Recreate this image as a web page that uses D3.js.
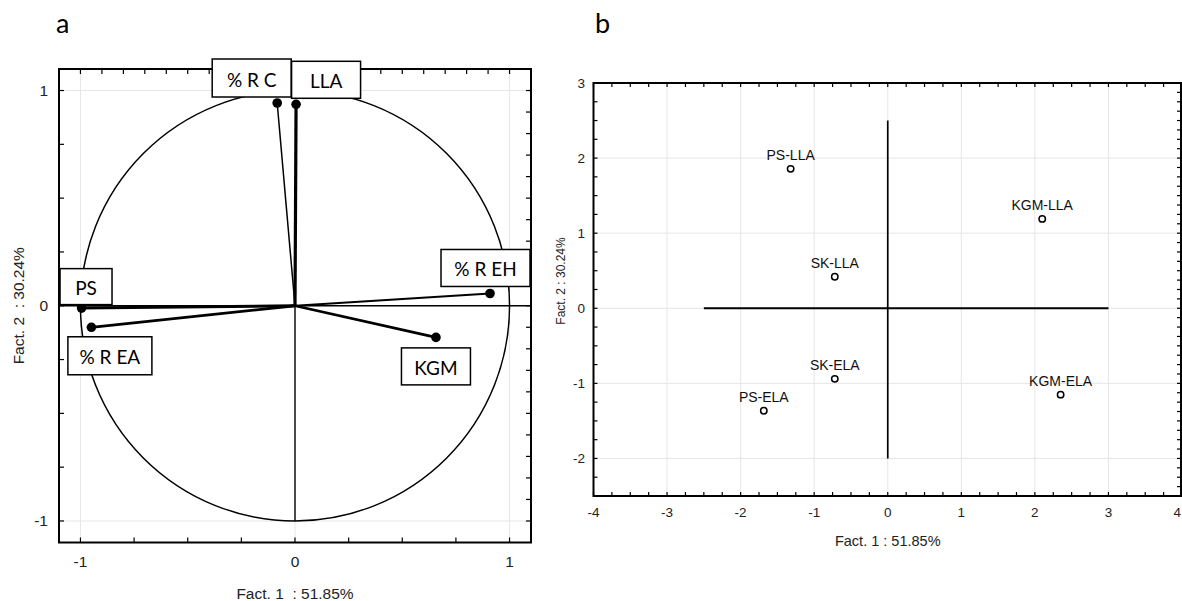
<!DOCTYPE html>
<html>
<head>
<meta charset="utf-8">
<script src="https://cdn.jsdelivr.net/npm/d3@7"></script>
<style>
  html, body { margin: 0; padding: 0; background: #fff; }
  svg { display: block; }
</style>
</head>
<body>
<svg id="chart" width="1182" height="601"></svg>
<script>
// ---------- DATA ----------
// Panel a: projection of variables on factor plane (1 x 2)
const varNames = ["% R C", "LLA", "% R EH", "PS", "% R EA", "KGM"];
const varF1 = [-0.083, 0.005, 0.909, -0.995, -0.949, 0.657];
const varF2 = [0.942, 0.936, 0.057, -0.011, -0.100, -0.147];

// Panel b: projection of cases on factor plane (1 x 2)
const caseNames = ["PS-LLA", "KGM-LLA", "SK-LLA", "SK-ELA", "PS-ELA", "KGM-ELA"];
const caseF1 = [-1.32, 2.10, -0.72, -0.72, -1.685, 2.35];
const caseF2 = [1.857, 1.19, 0.42, -0.94, -1.365, -1.15];

const ticksA = [-1, 0, 1];
const ticksBx = [-4, -3, -2, -1, 0, 1, 2, 3, 4];
const ticksBy = [-2, -1, 0, 1, 2, 3];

const titleA = "a", titleB = "b";
const xTitleA = "Fact. 1  : 51.85%", yTitleA = "Fact. 2  : 30.24%";
const xTitleB = "Fact. 1 : 51.85%", yTitleB = "Fact. 2 : 30.24%";

// ---------- LAYOUT / STYLE (not data) ----------
const vecWidth = [1.5, 3.2, 1.8, 3.0, 2.8, 2.8];
// label box: offset of box top-left from point (px), box size
const boxLayout = [
  {dx: -65, dy: -44, w: 79, h: 38},
  {dx: -4.5, dy: -43, w: 69, h: 37},
  {dx: -49, dy: -44, w: 89, h: 37},
  {dx: -21.5, dy: -39.5, w: 52, h: 36},
  {dx: -23.5, dy: 9.5, w: 84, h: 38},
  {dx: -34.5, dy: 10.5, w: 69, h: 37}
];

const svg = d3.select("#chart");
const ARIAL = "'Liberation Sans', Arial, sans-serif";
const CALIBRI = "Lato, 'Open Sans', sans-serif";

function drawTicks(g, scale, vals, orient, x0, y0, len) {
  vals.forEach(v => {
    const p = scale(v);
    let x1, y1, x2, y2;
    if (orient === "bottom") { x1 = x2 = p; y1 = y0; y2 = y0 - len; }
    if (orient === "top") { x1 = x2 = p; y1 = y0; y2 = y0 + len; }
    if (orient === "left") { y1 = y2 = p; x1 = x0; x2 = x0 + len; }
    if (orient === "right") { y1 = y2 = p; x1 = x0; x2 = x0 - len; }
    g.append("line").attr("x1", x1).attr("y1", y1).attr("x2", x2).attr("y2", y2)
      .attr("stroke", "#000").attr("stroke-width", 1.2);
  });
}
function steps(a, b, s) {
  const n = Math.round((b - a) / s);
  return d3.range(n + 1).map(i => +(a + i * s).toFixed(4));
}

// ================= PANEL A =================
{
  const x = d3.scaleLinear().domain([-1.1, 1.1]).range([59, 531]);
  const y = d3.scaleLinear().domain([-1.1, 1.1]).range([542.5, 69]);
  const g = svg.append("g");

  // grid
  ticksA.forEach(t => {
    g.append("line").attr("x1", x(t)).attr("x2", x(t)).attr("y1", y(1.1)).attr("y2", y(-1.1))
      .attr("stroke", "#e6e6e6").attr("stroke-width", 1);
    g.append("line").attr("y1", y(t)).attr("y2", y(t)).attr("x1", x(-1.1)).attr("x2", x(1.1))
      .attr("stroke", "#e6e6e6").attr("stroke-width", 1);
  });

  // unit circle
  g.append("ellipse").attr("cx", x(0)).attr("cy", y(0))
    .attr("rx", x(1) - x(0)).attr("ry", y(0) - y(1))
    .attr("fill", "none").attr("stroke", "#000").attr("stroke-width", 1.5);

  // axes lines
  g.append("line").attr("x1", x(-1.1)).attr("x2", x(1.1)).attr("y1", y(0)).attr("y2", y(0))
    .attr("stroke", "#000").attr("stroke-width", 1.7);
  g.append("line").attr("x1", x(0)).attr("x2", x(0)).attr("y1", y(0)).attr("y2", y(-1))
    .attr("stroke", "#000").attr("stroke-width", 1.4);

  // vectors
  varNames.forEach((n, i) => {
    g.append("line").attr("x1", x(0)).attr("y1", y(0)).attr("x2", x(varF1[i])).attr("y2", y(varF2[i]))
      .attr("stroke", "#000").attr("stroke-width", vecWidth[i]);
  });
  varNames.forEach((n, i) => {
    g.append("circle").attr("cx", x(varF1[i])).attr("cy", y(varF2[i])).attr("r", 4.8).attr("fill", "#000");
  });

  // frame
  g.append("rect").attr("x", x(-1.1)).attr("y", y(1.1)).attr("width", x(1.1) - x(-1.1)).attr("height", y(-1.1) - y(1.1))
    .attr("fill", "none").attr("stroke", "#000").attr("stroke-width", 2);

  // ticks
  drawTicks(g, x, steps(-1, 1, 0.25), "bottom", 0, y(-1.1), 5);
  drawTicks(g, y, steps(-1, 1, 0.25), "left", x(-1.1), 0, 5);
  drawTicks(g, x, steps(-1, 1, 0.1), "top", 0, y(1.1), 5);
  drawTicks(g, y, steps(-1, 1, 0.1), "right", x(1.1), 0, 5);

  // label boxes
  varNames.forEach((n, i) => {
    const b = boxLayout[i];
    const bx = x(varF1[i]) + b.dx, by = y(varF2[i]) + b.dy;
    g.append("rect").attr("x", bx).attr("y", by).attr("width", b.w).attr("height", b.h)
      .attr("fill", "#fff").attr("stroke", "#000").attr("stroke-width", 1.5);
    g.append("text").attr("x", bx + b.w / 2).attr("y", by + b.h / 2 + 1)
      .attr("text-anchor", "middle").attr("dominant-baseline", "central")
      .attr("font-family", CALIBRI).attr("font-size", 19).attr("fill", "#000").text(n);
  });

  // tick labels
  ticksA.forEach(t => {
    g.append("text").attr("x", x(t)).attr("y", 567).attr("text-anchor", "middle")
      .attr("font-family", ARIAL).attr("font-size", 15.5).attr("fill", "#222").text(t);
    g.append("text").attr("x", 48).attr("y", y(t) + 5.5).attr("text-anchor", "end")
      .attr("font-family", ARIAL).attr("font-size", 15.5).attr("fill", "#222").text(t);
  });

  // axis titles
  g.append("text").attr("x", x(0)).attr("y", 599).attr("text-anchor", "middle")
    .attr("font-family", ARIAL).attr("font-size", 15.5).attr("fill", "#222")
    .style("white-space", "pre").text(xTitleA);
  g.append("text").attr("transform", `translate(24,${y(0)}) rotate(-90)`).attr("text-anchor", "middle")
    .attr("font-family", ARIAL).attr("font-size", 15.5).attr("fill", "#222")
    .style("white-space", "pre").text(yTitleA);

  // panel title
  g.append("text").attr("x", 56).attr("y", 33).attr("font-family", CALIBRI)
    .attr("font-size", 27).attr("fill", "#000").text(titleA);
}

// ================= PANEL B =================
{
  const x = d3.scaleLinear().domain([-4, 4]).range([593.5, 1182]);
  const y = d3.scaleLinear().domain([-2.5, 3]).range([496, 83]);
  const g = svg.append("g");

  // grid
  ticksBx.filter(t => t > -4 && t < 4).forEach(t => {
    g.append("line").attr("x1", x(t)).attr("x2", x(t)).attr("y1", y(3)).attr("y2", y(-2.5))
      .attr("stroke", "#e6e6e6").attr("stroke-width", 1);
  });
  ticksBy.filter(t => t > -2.5 && t < 3).forEach(t => {
    g.append("line").attr("y1", y(t)).attr("y2", y(t)).attr("x1", x(-4)).attr("x2", x(4))
      .attr("stroke", "#e6e6e6").attr("stroke-width", 1);
  });

  // cross lines
  g.append("line").attr("x1", x(-2.5)).attr("x2", x(3)).attr("y1", y(0)).attr("y2", y(0))
    .attr("stroke", "#000").attr("stroke-width", 2);
  g.append("line").attr("x1", x(0)).attr("x2", x(0)).attr("y1", y(2.5)).attr("y2", y(-2))
    .attr("stroke", "#000").attr("stroke-width", 1.7);

  // frame
  g.append("rect").attr("x", x(-4)).attr("y", y(3)).attr("width", x(4) - x(-4) - 1).attr("height", y(-2.5) - y(3))
    .attr("fill", "none").attr("stroke", "#000").attr("stroke-width", 2);

  // ticks
  drawTicks(g, x, steps(-4, 4, 0.25), "bottom", 0, y(-2.5), 4);
  drawTicks(g, x, steps(-4, 4, 0.25), "top", 0, y(3), 4);
  drawTicks(g, y, steps(-2.5, 3, 0.25), "left", x(-4), 0, 4);
  drawTicks(g, y, steps(-2.5, 3, 0.125), "right", x(4) - 1, 0, 4);

  // points
  caseNames.forEach((n, i) => {
    g.append("circle").attr("cx", x(caseF1[i])).attr("cy", y(caseF2[i])).attr("r", 3.2)
      .attr("fill", "#fff").attr("stroke", "#000").attr("stroke-width", 1.5);
    g.append("text").attr("x", x(caseF1[i])).attr("y", y(caseF2[i]) - 8.5).attr("text-anchor", "middle")
      .attr("font-family", ARIAL).attr("font-size", 14).attr("fill", "#111").text(n);
  });

  // tick labels (last one kept inside the window)
  ticksBx.forEach((t, i) => {
    const last = i === ticksBx.length - 1;
    g.append("text").attr("x", last ? 1181 : x(t)).attr("y", 517)
      .attr("text-anchor", last ? "end" : "middle")
      .attr("font-family", ARIAL).attr("font-size", 13.5).attr("fill", "#222").text(t);
  });
  ticksBy.forEach(t => {
    g.append("text").attr("x", 585).attr("y", y(t) + 5).attr("text-anchor", "end")
      .attr("font-family", ARIAL).attr("font-size", 13.5).attr("fill", "#222").text(t);
  });

  // axis titles
  g.append("text").attr("x", x(0)).attr("y", 546).attr("text-anchor", "middle")
    .attr("font-family", ARIAL).attr("font-size", 14.5).attr("fill", "#222").text(xTitleB);
  g.append("text").attr("transform", `translate(565,281) rotate(-90)`).attr("text-anchor", "middle")
    .attr("font-family", ARIAL).attr("font-size", 12).attr("fill", "#222").text(yTitleB);

  // panel title
  g.append("text").attr("x", 595).attr("y", 33).attr("font-family", CALIBRI)
    .attr("font-size", 27).attr("fill", "#000").text(titleB);
}
</script>
</body>
</html>
